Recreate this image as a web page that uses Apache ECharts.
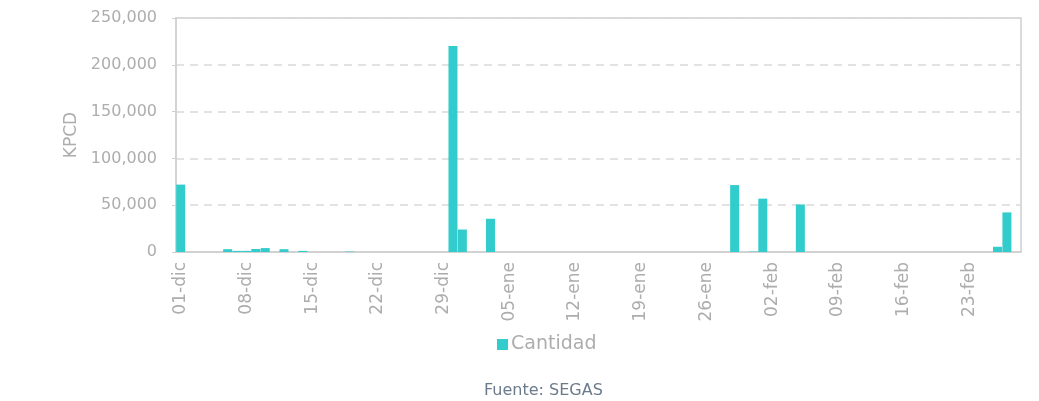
<!DOCTYPE html>
<html>
<head>
<meta charset="utf-8">
<script src="https://cdn.jsdelivr.net/npm/echarts@6/dist/echarts.min.js"></script>
<style>
	html, body { margin: 0; padding: 0; background: #fff; }
	#chart { width: 1039px; height: 401px; }
</style>
</head>
<body>
<div id="chart"></div>
<script>
// categorías: días de dic a feb
const monthNames = ['dic', 'ene', 'feb']
const monthDays = [31, 31, 28]

// KPCD por día
const dicValues = [
	72000, 0, 0, 0, 0, 3000, 1200, 1200, 3200, 4200,
	0, 3000, 0, 1200, 0, 0, 0, 0, 500, 0,
	0, 0, 0, 0, 0, 0, 0, 0, 0, 220000,
	24000
]
const eneValues = [
	0, 0, 35500, 0, 0, 0, 0, 0, 0, 0,
	0, 0, 0, 0, 0, 0, 0, 0, 0, 0,
	0, 0, 0, 0, 0, 0, 0, 0, 71500, 0,
	400
]
const febValues = [
	57000, 0, 0, 0, 50800, 0, 0, 0, 0, 0,
	0, 0, 0, 0, 0, 0, 0, 0, 0, 0,
	0, 0, 0, 0, 0, 5600, 42300, 0
]
const yTicks = [0, 50000, 100000, 150000, 200000, 250000]

const categories = []
monthNames.forEach((m, i) => {
	for (let d = 1; d <= monthDays[i]; d++) {
		categories.push((d < 10 ? '0' + d : '' + d) + '-' + m)
	}
})
const values = dicValues.concat(eneValues, febValues)

const chart = echarts.init(document.getElementById('chart'))
const options = {
	animation: false,
	textStyle: { fontFamily: '"DejaVu Sans", sans-serif' },
	title: {
		text: 'Fuente: SEGAS',
		left: 479,
		top: 378,
		textStyle: { color: '#6b7b8c', fontSize: 16, fontWeight: 'normal' }
	},
	legend: {
		data: ['Cantidad'],
		left: 492,
		top: 330,
		itemWidth: 11,
		itemHeight: 11,
		itemGap: 5,
		icon: 'rect',
		textStyle: { color: '#adadad', fontSize: 19, padding: [0, 0, 0, -2] }
	},
	grid: {
		left: 176,
		right: 18,
		top: 18,
		bottom: 149,
		show: true,
		borderColor: '#d0d0d0',
		borderWidth: 1.5
	},
	xAxis: {
		type: 'category',
		data: categories,
		axisLine: { lineStyle: { color: '#d0d0d0', width: 1.5 } },
		axisTick: { interval: 6, length: 5, lineStyle: { color: '#d0d0d0', width: 1.5 } },
		axisLabel: {
			interval: 6,
			rotate: 90,
			color: '#adadad',
			fontSize: 17,
			margin: 10
		}
	},
	yAxis: {
		type: 'value',
		min: yTicks[0],
		max: yTicks[yTicks.length - 1],
		interval: 50000,
		name: 'KPCD',
		nameLocation: 'middle',
		nameGap: 92,
		nameTextStyle: { color: '#adadad', fontSize: 17 },
		axisLine: { show: true, lineStyle: { color: '#d0d0d0', width: 1.5 } },
		axisTick: { show: true, length: 4, lineStyle: { color: '#d0d0d0' } },
		axisLabel: {
			color: '#adadad',
			fontSize: 16,
			margin: 19,
			formatter: v => v.toLocaleString('en-US')
		},
		splitLine: {
			lineStyle: { type: [8, 6], color: '#d9d9d9', width: 1.5 }
		}
	},
	series: [
		{
			name: 'Cantidad',
			type: 'bar',
			data: values,
			barCategoryGap: '4%',
			itemStyle: { color: '#33cccc' }
		}
	]
}
chart.setOption(options)
</script>
</body>
</html>
